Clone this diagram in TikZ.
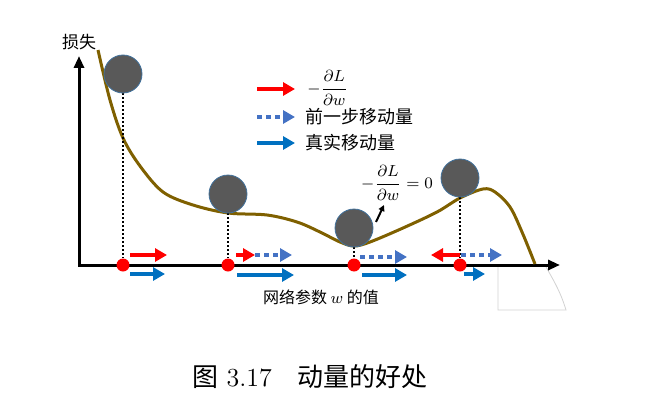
\documentclass[tikz,border=0pt]{standalone}
\usepackage{amsmath}
\usepackage{fontspec}
\newfontfamily\cjk{Noto Sans CJK SC}
\usetikzlibrary{calc, positioning, arrows.meta}
\definecolor{lossC}{RGB}{127, 96, 0}
\definecolor{ballC}{RGB}{89, 89, 89}
\definecolor{ballE}{RGB}{65, 113, 156}
\definecolor{gradC}{RGB}{255, 0, 0}
\definecolor{prevC}{RGB}{68, 114, 196}
\definecolor{realC}{RGB}{0, 112, 192}

\begin{document}
\begin{tikzpicture}[
  x=0.5pt, y=-0.5pt,
  axis/.style={line width=1.5pt, {Triangle[length=6pt, width=5pt]}-{Triangle[length=6pt, width=5pt]}},
  ball/.style={circle, fill=ballC, draw=ballE, line width=0.4pt, minimum size=19pt, inner sep=0pt},
  dot/.style={circle, fill=gradC, minimum size=6.5pt, inner sep=0pt},
  drop/.style={line width=1pt, dash pattern=on 1pt off 1pt},
  grad/.style={gradC, line width=2pt, -{Triangle[length=6pt, width=6.5pt]}},
  prev/.style={prevC, line width=2pt, dash pattern=on 2.5pt off 2pt, -{Triangle[length=6pt, width=6.5pt]}},
  real/.style={realC, line width=2pt, -{Triangle[length=6pt, width=6.5pt]}},
  legtext/.style={anchor=west, inner sep=0pt, font=\cjk\fontsize{9pt}{11pt}\selectfont},
  mathtext/.style={inner sep=0pt, font=\fontsize{8.5pt}{10pt}\selectfont}
]
  \useasboundingbox (0,0) rectangle (657,417);

  % Faint frame
  \draw[gray!35, line width=0.4pt] (498,265) -- (498,310) -- (566,310)
    .. controls (560,290) and (552,278) .. (545,265);

  % Axes
  \coordinate (ytop) at (79,56);
  \coordinate (orig) at (79,265);
  \coordinate (xend) at (560,265);
  \draw[axis] (ytop) -- (orig) -- (xend);
  \node[font=\cjk\fontsize{8.5pt}{10pt}\selectfont] (ylab) at (79,42) {损失};
  \node[font=\cjk\fontsize{8pt}{10pt}\selectfont] (xlab) at (321,297) {网络参数 $w$ 的值};

  % Loss curve
  \draw[lossC, line width=1.5pt] plot[smooth, tension=0.55] coordinates {
    (98,50) (110,100) (123,138) (140,166) (163,192) (193,205) (228,213)
    (267,215) (297,222) (320,232) (340,242) (354,246) (370,242) (403,228)
    (437,212) (460,198) (483,189) (495,192) (510,207) (522,232) (535,264)};

  % Balls, drops and positions
  \foreach \i/\x/\y in {1/123/74, 2/228/194, 3/354/228, 4/460/178} {
    \node[dot] (p\i) at (\x,265) {};
    \draw[drop] (\x,\y+19) -- (p\i.north);
    \node[ball] (b\i) at (\x,\y) {};
  }

  % Steps
  \draw[grad] ([shift={(7,-10)}]p1.center) -- ++(37,0);
  \draw[real] ([shift={(7,9)}]p1.center) -- ++(35,0);
  \draw[grad] ([shift={(8,-10)}]p2.center) -- ++(19,0);
  \draw[prev] ([shift={(27,-10)}]p2.center) -- ++(37,0);
  \draw[real] ([shift={(9,10)}]p2.center) -- ++(57,0);
  \draw[prev] ([shift={(6,-8)}]p3.center) -- ++(47,0);
  \draw[real] ([shift={(8,10)}]p3.center) -- ++(45,0);
  \draw[grad] ([shift={(0,-10)}]p4.center) -- ++(-29,0);
  \draw[prev] ([shift={(1,-10)}]p4.center) -- ++(41,0);
  \draw[real] ([shift={(4,9)}]p4.center) -- ++(21,0);

  % Zero gradient note
  \node[mathtext] (zero) at (397,183) {$-\dfrac{\partial L}{\partial w}=0$};
  \coordinate (ztail) at (376,222);
  \coordinate (zhead) at (384,205);
  \draw[line width=1pt, -{Triangle[length=3pt, width=3pt]}] (ztail) -- (zhead);

  % Legend
  \node[mathtext, anchor=west] (lg1) at (307,88) {$-\dfrac{\partial L}{\partial w}$};
  \node[legtext] (lg2) at (305,117) {前一步移动量};
  \node[legtext] (lg3) at (305,143) {真实移动量};
  \draw[grad] ($(lg1.west)+(-50,1)$) -- ($(lg1.west)+(-12,1)$);
  \draw[prev] ($(lg2.west)+(-48,0)$) -- ($(lg2.west)+(-10,0)$);
  \draw[real] ($(lg3.west)+(-48,0)$) -- ($(lg3.west)+(-10,0)$);

  % Caption
  \node[font=\fontsize{13pt}{15pt}\selectfont] (cap) at (310,377) {{\cjk 图} 3.17\quad{\cjk 动量的好处}};
\end{tikzpicture}
\end{document}
